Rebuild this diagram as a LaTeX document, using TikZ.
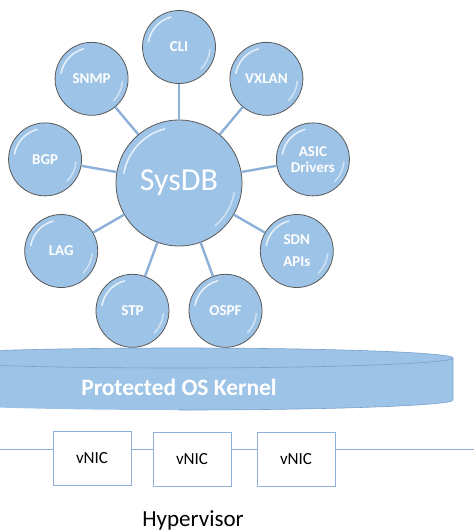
\documentclass[tikz,border=0pt]{standalone}
\usepackage{fontspec}
\setmainfont{Carlito}
\usetikzlibrary{calc}

\definecolor{bubble}{RGB}{157,195,230}
\definecolor{wire}{RGB}{140,176,216}
\definecolor{rim}{RGB}{120,160,205}

\begin{document}
\begin{tikzpicture}[x=1pt, y=1pt,
  sat/.style={circle, draw=black!65, line width=0.8pt, fill=bubble,
    minimum size=73pt, inner sep=0pt, text=white, align=center,
    font=\bfseries\fontsize{15}{16}\selectfont},
  hub/.style={sat, minimum size=126pt, font=\fontsize{32}{36}\selectfont},
  link/.style={wire, line width=2.4pt},
  shine/.style={white, line width=1.6pt, line cap=round, opacity=0.75},
  nic/.style={draw=wire, line width=1pt, fill=white, minimum width=78pt,
    minimum height=54pt, font=\fontsize{17}{20}\selectfont}]

  \useasboundingbox (0,0) rectangle (474,-531);

  % kernel
  \begin{scope}
    \clip (0,0) rectangle (474,-531);
    \fill[bubble] (-95,-358) -- (-95,-400)
      arc[start angle=180, end angle=360, x radius=274, y radius=10]
      -- (453,-358)
      arc[start angle=0, end angle=180, x radius=274, y radius=10] -- cycle;
    \draw[rim, line width=0.6pt] (179,-358) ellipse[x radius=274, y radius=10];
    \draw[rim, line width=0.6pt] (453,-358) -- (453,-400)
      arc[start angle=0, end angle=-90, x radius=274, y radius=10];
  \end{scope}
  \node[text=white, font=\bfseries\fontsize{23.5}{26}\selectfont] (kernel) at (179,-387) {Protected OS Kernel};

  % sysdb and its clients
  \node[hub] (sysdb) at (179,-183) {SysDB};
  \draw[shine] ($(sysdb)+(105:56)$) arc[start angle=105, end angle=170, radius=56];
  \draw[shine, opacity=0.5] ($(sysdb)+(-10:56)$) arc[start angle=-10, end angle=-50, radius=56];

  \foreach \ang/\nm/\txt in {90/cli/CLI, 130/snmp/SNMP, 50/vxlan/VXLAN,
      170/bgp/BGP, 10/asic/{ASIC\\Drivers}, 210/lag/LAG,
      -30/sdn/{SDN\\[6pt]APIs}, 250/stp/STP, 290/ospf/OSPF}
  {
    \node[sat] (\nm) at ($(sysdb)+(\ang:136)$) {\txt};
    \draw[link] (sysdb) -- (\nm);
    \draw[shine] ($(\nm)+(105:31)$) arc[start angle=105, end angle=170, radius=31];
    \draw[shine, opacity=0.5] ($(\nm)+(-5:31)$) arc[start angle=-5, end angle=-45, radius=31];
  }

  % hypervisor
  \coordinate (busl) at (0,-449);
  \coordinate (busr) at (474,-449);
  \draw[wire, line width=1pt] (busl) -- (busr);
  \node[nic] (nic1) at (92,-458) {vNIC};
  \node[nic] (nic2) at (192,-459) {vNIC};
  \node[nic] (nic3) at (296,-459) {vNIC};
  \node[font=\fontsize{23}{26}\selectfont] (hyper) at (193,-520) {Hypervisor};
\end{tikzpicture}
\end{document}
